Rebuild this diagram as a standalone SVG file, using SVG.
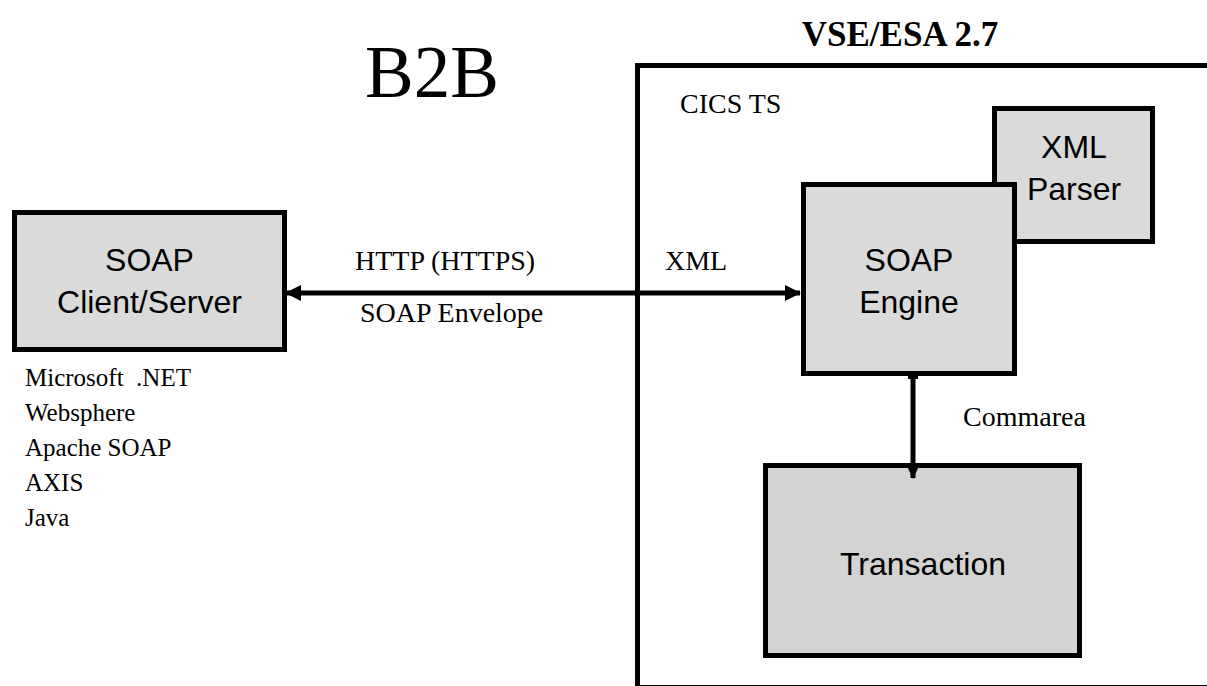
<svg xmlns="http://www.w3.org/2000/svg" width="1207" height="686" viewBox="0 0 1207 686">
<style>
.box{stroke:#000;stroke-width:5}
.lbl{font-family:"Liberation Sans",Arial,sans-serif;font-size:32px;fill:#000;text-anchor:middle}
.ser{font-family:"Liberation Serif","Times New Roman",serif;font-size:28px;fill:#000}
.lst{font-family:"Liberation Serif","Times New Roman",serif;font-size:25px;fill:#000;white-space:pre}
.conn{stroke:#000;stroke-width:5;fill:none}
</style>
<defs>
<marker id="ah" markerWidth="18" markerHeight="18" refX="15" refY="8" orient="auto-start-reverse" markerUnits="userSpaceOnUse">
<path d="M0,0 L16,8 L0,16 Z" fill="#000"/>
</marker>
<marker id="ahs" markerWidth="14" markerHeight="14" refX="12" refY="6" orient="auto" markerUnits="userSpaceOnUse">
<path d="M0,0 L13,6 L0,12 Z" fill="#000"/>
</marker>
</defs>
<rect width="1207" height="686" fill="#fff"/>
<text x="432" y="97" font-family="Liberation Serif,'Times New Roman',serif" font-size="73" text-anchor="middle">B2B</text>
<text x="900" y="46" font-family="Liberation Serif,'Times New Roman',serif" font-size="35" font-weight="bold" text-anchor="middle">VSE/ESA 2.7</text>
<g id="container">
<rect x="637.5" y="65.5" width="600" height="622" fill="none" class="box"/>
<text class="ser" x="680" y="113">CICS TS</text>
</g>
<g id="client">
<rect class="box" x="14.5" y="212.5" width="270" height="137" fill="#dadada"/>
<text class="lbl" x="149.5" y="271">SOAP</text>
<text class="lbl" x="149.5" y="313">Client/Server</text>
</g>
<g id="client-list" class="lst">
<text x="25" y="386" xml:space="preserve">Microsoft  .NET</text>
<text x="25" y="421">Websphere</text>
<text x="25" y="456">Apache SOAP</text>
<text x="25" y="491">AXIS</text>
<text x="25" y="526">Java</text>
</g>
<g id="xmlparser">
<rect class="box" x="994.5" y="108.5" width="158" height="133" fill="#dadada"/>
<text class="lbl" x="1074" y="158">XML</text>
<text class="lbl" x="1074" y="200">Parser</text>
</g>
<g id="soapengine">
<rect class="box" x="803.5" y="184.5" width="211" height="189" fill="#dadada"/>
<text class="lbl" x="909" y="271">SOAP</text>
<text class="lbl" x="909" y="313">Engine</text>
</g>
<g id="transaction">
<rect class="box" x="765.5" y="465.5" width="314" height="190" fill="#d3d3d3"/>
<text class="lbl" x="923" y="575">Transaction</text>
</g>
<g id="connectors">
<line class="conn" x1="286" y1="293" x2="800" y2="293" marker-start="url(#ah)" marker-end="url(#ah)"/>
<line class="conn" x1="913" y1="376" x2="913" y2="478" marker-end="url(#ahs)"/>
<line x1="908" y1="377.5" x2="918" y2="377.5" stroke="#000" stroke-width="3"/>
</g>
<g id="labels" class="ser">
<text x="355" y="270">HTTP (HTTPS)</text>
<text x="360" y="322">SOAP Envelope</text>
<text x="665" y="270">XML</text>
<text x="963" y="426">Commarea</text>
</g>
</svg>
